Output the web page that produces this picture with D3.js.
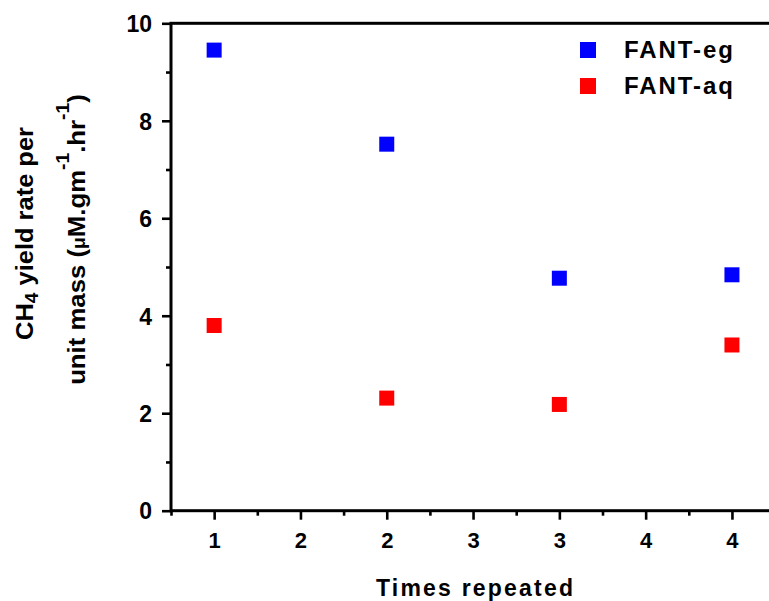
<!DOCTYPE html>
<html>
<head>
<meta charset="utf-8">
<script src="https://cdn.jsdelivr.net/npm/d3@7"></script>
<style>
  html, body { margin: 0; padding: 0; background: #fff; }
  svg { display: block; font-family: "Liberation Sans", Arial, sans-serif; font-weight: bold; }
</style>
</head>
<body>
<svg id="chart" width="769" height="601"></svg>
<script>
// Tick labels along the x axis (one per major tick, positions 1..7)
const tickLabels = ["1", "2", "2", "3", "3", "4", "4"];
// Major-tick position of each repeated run
const runPositions = [1, 3, 5, 7];
// CH4 yield rate per unit mass for each run
const egValues = [9.45, 7.52, 4.77, 4.84];
const aqValues = [3.80, 2.31, 2.18, 3.40];
const seriesNames = ["FANT-eg", "FANT-aq"];
const seriesColors = ["#0000ff", "#ff0000"];

const yMajor = [0, 2, 4, 6, 8, 10];
const yMinor = [1, 3, 5, 7, 9];
const xMajor = [1, 2, 3, 4, 5, 6, 7];
const xMinor = [0.5, 1.5, 2.5, 3.5, 4.5, 5.5, 6.5, 7.5];

const svg = d3.select("#chart");
const plotLeft = 171, plotTop = 23.3, plotBottom = 510.7, step = 86.3;

const x = d3.scaleLinear().domain([0.5, 7.5]).range([plotLeft, plotLeft + 7 * step]);
const y = d3.scaleLinear().domain([0, 10]).range([plotBottom, plotTop]);

// frame (right edge falls just outside the view)
svg.append("rect")
  .attr("x", x(0.5)).attr("y", y(10))
  .attr("width", x(7.5) - x(0.5)).attr("height", y(0) - y(10))
  .attr("fill", "none").attr("stroke", "#000").attr("stroke-width", 3);

function styleAxis(g, fontSize) {
  g.select(".domain").remove();
  g.selectAll(".tick line").attr("stroke", "#000").attr("stroke-width", 2.6);
  g.selectAll(".tick text").attr("fill", "#000")
    .style("font-size", fontSize + "px").style("font-weight", "bold");
}

// y axis
svg.append("g").attr("transform", `translate(${plotLeft},0)`)
  .call(d3.axisLeft(y).tickValues(yMajor).tickSize(9).tickPadding(10).tickFormat(d3.format("d")))
  .call(styleAxis, 23)
  .selectAll(".tick text").attr("dy", "0.36em");
svg.append("g").attr("transform", `translate(${plotLeft},0)`)
  .call(d3.axisLeft(y).tickValues(yMinor).tickSize(5).tickFormat(""))
  .call(styleAxis, 23);

// x axis
svg.append("g").attr("transform", `translate(0,${plotBottom})`)
  .call(d3.axisBottom(x).tickValues(xMajor).tickSize(9).tickPadding(13)
    .tickFormat((d, i) => tickLabels[i]))
  .call(styleAxis, 22);
svg.append("g").attr("transform", `translate(0,${plotBottom})`)
  .call(d3.axisBottom(x).tickValues(xMinor).tickSize(5).tickFormat(""))
  .call(styleAxis, 22);

// markers
const size = 15;
[egValues, aqValues].forEach((vals, s) => {
  svg.append("g").selectAll("rect")
    .data(vals)
    .join("rect")
    .attr("x", (d, i) => x(runPositions[i]) - size / 2)
    .attr("y", d => y(d) - size / 2)
    .attr("width", size).attr("height", size)
    .attr("fill", seriesColors[s]);
});

// legend
const legend = svg.append("g");
seriesNames.forEach((name, i) => {
  const ly = 50 + i * 36;
  legend.append("rect")
    .attr("x", 580).attr("y", ly - 8).attr("width", 16).attr("height", 16)
    .attr("fill", seriesColors[i]);
  legend.append("text")
    .attr("x", 624).attr("y", ly + 8)
    .attr("textLength", 109).attr("lengthAdjust", "spacing")
    .style("font-size", "24px")
    .text(name);
});

// x title
svg.append("text")
  .attr("x", 376).attr("y", 596)
  .attr("textLength", 197).attr("lengthAdjust", "spacing")
  .style("font-size", "23px")
  .text("Times repeated");

// y title, two rotated lines stretched along their length to span the axis
function rotatedLine(baseX, fromY, toY, build) {
  const g = svg.append("g");
  const t = g.append("text").attr("text-anchor", "middle").style("font-size", "24px");
  build(t);
  const len = t.node().getComputedTextLength();
  const k = (fromY - toY) / len;
  g.attr("transform", `translate(${baseX},${(fromY + toY) / 2}) rotate(-90) scale(${k},1)`);
}

rotatedLine(33, 340, 127, t => {
  t.append("tspan").text("CH");
  t.append("tspan").attr("dy", 5).style("font-size", "18px").text("4");
  t.append("tspan").attr("dy", -5).text(" yield rate per");
});

rotatedLine(85, 385, 94, t => {
  t.append("tspan").text("unit mass (");
  t.append("tspan").style("font-size", "18px").text("\u03bc");
  t.append("tspan").text("M.gm");
  t.append("tspan").attr("dy", -16).style("font-size", "18px").text("-1");
  t.append("tspan").attr("dy", 16).text(".hr");
  t.append("tspan").attr("dy", -16).style("font-size", "18px").text("-1");
  t.append("tspan").attr("dy", 16).text(")");
});
</script>
</body>
</html>
